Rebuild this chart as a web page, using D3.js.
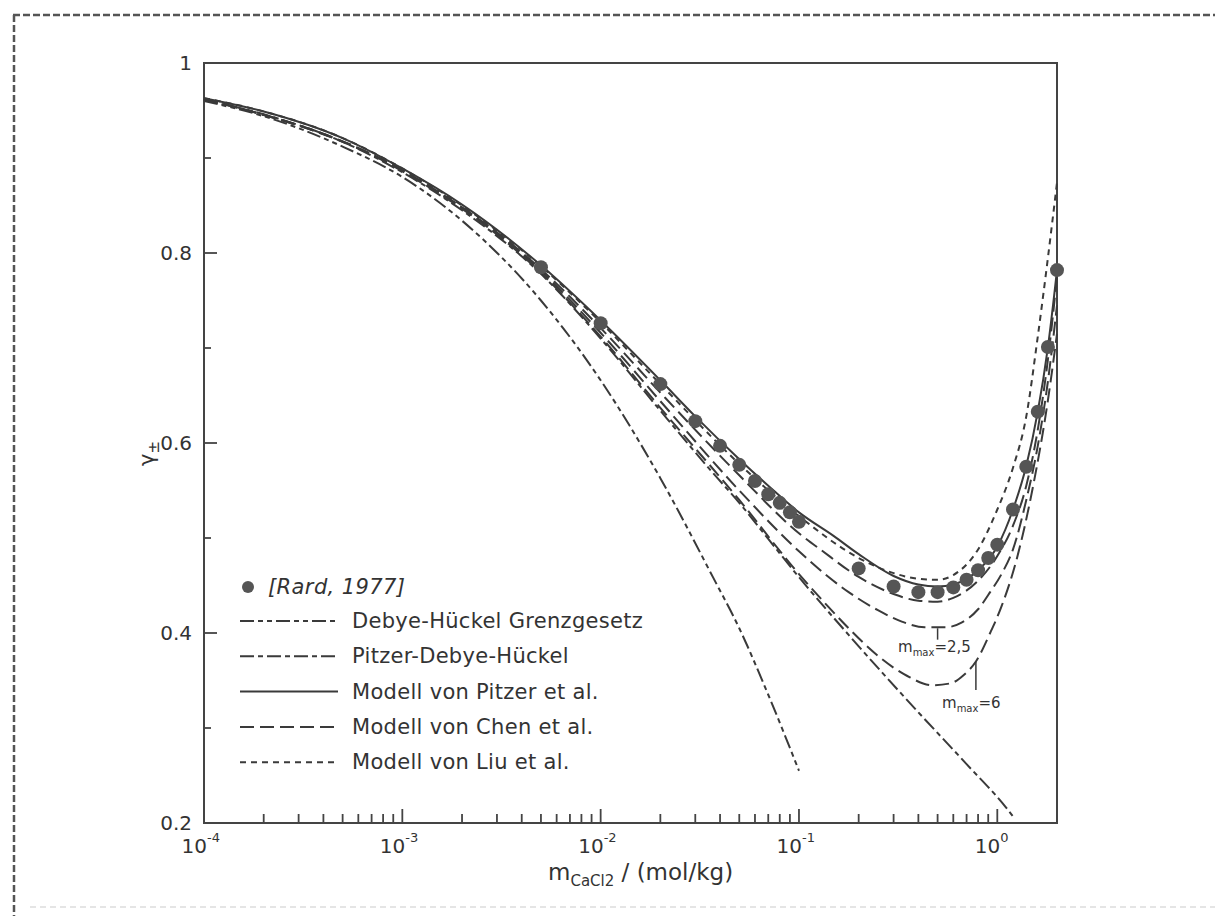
<!DOCTYPE html>
<html>
<head>
<meta charset="utf-8">
<script src="https://cdn.jsdelivr.net/npm/d3@7/dist/d3.min.js"></script>
<style>
  html, body { margin: 0; padding: 0; background: #fff; }
  svg { display: block; }
  text { font-family: "DejaVu Sans", "Noto Sans", sans-serif; fill: #333; }
</style>
</head>
<body>
<svg id="chart" width="1215" height="916"></svg>
<script>
// Measured mean activity coefficients of CaCl2 [Rard, 1977]
const rardM = [0.005, 0.01, 0.02, 0.03, 0.04, 0.05, 0.06, 0.07, 0.08, 0.09, 0.1,
               0.2, 0.3, 0.4, 0.5, 0.6, 0.7, 0.8, 0.9, 1.0, 1.2, 1.4, 1.6, 1.8, 2.0];
const rardG = [0.785, 0.726, 0.662, 0.623, 0.597, 0.577, 0.560, 0.546, 0.537, 0.527, 0.517,
               0.468, 0.449, 0.443, 0.443, 0.448, 0.456, 0.466, 0.479, 0.493, 0.530, 0.575, 0.633, 0.701, 0.782];

// Debye-Hückel limiting law
const dhllM = [1e-4, 2e-4, 5e-4, 1e-3, 2e-3, 5e-3, 0.01, 0.02, 0.037, 0.05, 0.07, 0.1];
const dhllG = [0.960, 0.944, 0.912, 0.880, 0.834, 0.750, 0.666, 0.563, 0.458, 0.405, 0.335, 0.255];

// Pitzer-Debye-Hückel term
const pdhM = [1e-4, 2e-4, 5e-4, 1e-3, 2e-3, 5e-3, 0.01, 0.02, 0.037, 0.05, 0.07, 0.098, 0.178, 0.39, 0.7, 1.1, 1.2];
const pdhG = [0.961, 0.946, 0.917, 0.885, 0.845, 0.778, 0.710, 0.634, 0.568, 0.537, 0.499, 0.461, 0.398, 0.319, 0.262, 0.217, 0.207];

// Pitzer et al.
const pitzerM = [1e-4, 2e-4, 5e-4, 1e-3, 2e-3, 5e-3, 0.01, 0.02, 0.03, 0.05, 0.07, 0.1, 0.15,
                 0.2, 0.3, 0.4, 0.5, 0.6, 0.7, 0.8, 1.0, 1.2, 1.4, 1.6, 1.8, 2.0];
const pitzerG = [0.963, 0.949, 0.921, 0.889, 0.851, 0.787, 0.729, 0.666, 0.628, 0.583, 0.555, 0.527, 0.502,
                 0.483, 0.460, 0.451, 0.449, 0.451, 0.457, 0.466, 0.491, 0.530, 0.576, 0.633, 0.701, 0.782];

// Chen et al., full molality range
const chenM = [1e-4, 1e-3, 5e-3, 0.01, 0.02, 0.05, 0.1, 0.13, 0.2, 0.3, 0.4, 0.5, 0.6, 0.8, 1.0, 1.2, 1.4, 1.6, 1.8, 2.0];
const chenG = [0.962, 0.887, 0.783, 0.721, 0.653, 0.566, 0.505, 0.487, 0.459, 0.441, 0.434, 0.433, 0.437, 0.455, 0.481, 0.513, 0.555, 0.614, 0.688, 0.775];

// Chen et al., fitted up to m_max = 2.5
const chen25M = [1e-4, 1e-3, 5e-3, 0.01, 0.02, 0.05, 0.1, 0.137, 0.178, 0.25, 0.33, 0.43, 0.55, 0.66, 0.8, 0.92, 1.05, 1.2, 1.4, 1.6, 1.8, 2.0];
const chen25G = [0.962, 0.887, 0.781, 0.716, 0.644, 0.550, 0.486, 0.461, 0.443, 0.424, 0.412, 0.406, 0.406, 0.411, 0.425, 0.443, 0.462, 0.488, 0.540, 0.597, 0.665, 0.745];

// Chen et al., fitted up to m_max = 6
const chen6M = [1e-4, 1e-3, 5e-3, 0.01, 0.02, 0.05, 0.1, 0.14, 0.178, 0.25, 0.35, 0.47, 0.58, 0.68, 0.78, 0.92, 1.05, 1.25, 1.5, 1.8, 2.0];
const chen6G = [0.962, 0.886, 0.779, 0.712, 0.637, 0.540, 0.462, 0.428, 0.405, 0.376, 0.355, 0.345, 0.347, 0.356, 0.370, 0.400, 0.428, 0.477, 0.550, 0.645, 0.715];

// Liu et al.
const liuM = [1e-4, 2e-4, 5e-4, 1e-3, 5e-3, 0.01, 0.02, 0.05, 0.1, 0.2, 0.3, 0.4, 0.5, 0.6, 0.8, 1.0, 1.2, 1.4, 1.6, 1.8, 2.0];
const liuG = [0.963, 0.949, 0.921, 0.889, 0.786, 0.727, 0.662, 0.578, 0.523, 0.479, 0.463, 0.457, 0.456, 0.461, 0.488, 0.530, 0.574, 0.628, 0.712, 0.795, 0.874];

// Axis ticks
const yTicks = [0.2, 0.3, 0.4, 0.5, 0.6, 0.7, 0.8, 0.9, 1.0];
const yTickLabels = ["0.2", "0.4", "0.6", "0.8", "1"];
const yLabelValues = [0.2, 0.4, 0.6, 0.8, 1.0];
const xDecades = [-4, -3, -2, -1, 0];
const xDecadeLabels = ["-4", "-3", "-2", "-1", "0"];

// Legend entries
const legendNames = ["Debye-Hückel Grenzgesetz", "Pitzer-Debye-Hückel", "Modell von Pitzer et al.",
                     "Modell von Chen et al.", "Modell von Liu et al."];

const svg = d3.select("#chart");
const ink = "#3a3a3a";

const x = d3.scaleLog().domain([1e-4, 2]).range([204, 1057]);
const y = d3.scaleLinear().domain([0.2, 1]).range([823, 63]);

// dashed page border
svg.append("line").attr("x1", 13).attr("x2", 1215).attr("y1", 15).attr("y2", 15)
  .attr("stroke", "#555").attr("stroke-width", 2.5).attr("stroke-dasharray", "7,3");
svg.append("line").attr("x1", 14).attr("x2", 14).attr("y1", 15).attr("y2", 916)
  .attr("stroke", "#555").attr("stroke-width", 2.5).attr("stroke-dasharray", "7,3");
svg.append("line").attr("x1", 30).attr("x2", 1215).attr("y1", 907).attr("y2", 907)
  .attr("stroke", "#ddd").attr("stroke-width", 1.5).attr("stroke-dasharray", "6,4");

// frame
svg.append("rect").attr("x", x(1e-4)).attr("y", y(1))
  .attr("width", x(2) - x(1e-4)).attr("height", y(0.2) - y(1))
  .attr("fill", "none").attr("stroke", "#444").attr("stroke-width", 2);

// y ticks (inward)
svg.append("g").selectAll("line").data(yTicks).join("line")
  .attr("x1", x(1e-4)).attr("x2", d => x(1e-4) + (Math.round(d * 10) % 2 === 0 ? 13 : 7))
  .attr("y1", d => y(d)).attr("y2", d => y(d))
  .attr("stroke", "#444").attr("stroke-width", 1.8);
svg.append("g").selectAll("text").data(yLabelValues).join("text")
  .attr("x", 192).attr("y", d => y(d) + 7)
  .attr("text-anchor", "end").attr("font-size", 20)
  .text((d, i) => yTickLabels[i]);

// x ticks (log minor + decades, inward)
const xMinor = [];
xDecades.forEach(e => {
  for (let k = 1; k <= 9; k++) {
    const v = k * Math.pow(10, e);
    if (v <= 2 && v > 1e-4) xMinor.push({ v, major: k === 1 });
  }
});
svg.append("g").selectAll("line").data(xMinor).join("line")
  .attr("x1", d => x(d.v)).attr("x2", d => x(d.v))
  .attr("y1", y(0.2)).attr("y2", d => y(0.2) - (d.major ? 14 : 9))
  .attr("stroke", "#444").attr("stroke-width", 1.8);
const xl = svg.append("g").selectAll("g").data(xDecades).join("g");
xl.append("text")
  .attr("x", d => x(Math.pow(10, d)) + 3).attr("y", 853)
  .attr("text-anchor", "end").attr("font-size", 20).text("10");
xl.append("text")
  .attr("x", d => x(Math.pow(10, d)) + 3).attr("y", 842)
  .attr("font-size", 13).text((d, i) => xDecadeLabels[i]);

// axis titles
const xt = svg.append("text").attr("x", 548).attr("y", 880).attr("font-size", 23);
xt.append("tspan").text("m");
xt.append("tspan").attr("font-size", 15).attr("dy", 6).text("CaCl2");
xt.append("tspan").attr("dy", -6).text(" / (mol/kg)");

const yt = svg.append("text").attr("transform", "translate(154,466) rotate(-90)").attr("font-size", 21);
yt.append("tspan").text("γ");
yt.append("tspan").attr("font-size", 15).attr("dy", 5).text("±");

// curves
const line = d3.line().x(d => x(d[0])).y(d => y(d[1])).curve(d3.curveMonotoneX);
const styles = {
  dhll: "14,4,5,4,5,4",
  pdh: "14,4,5,4",
  pitzer: null,
  chen: "14,6",
  liu: "6,5"
};
function curve(ms, gs, dash) {
  svg.append("path").datum(ms.map((m, i) => [m, gs[i]]))
    .attr("d", line).attr("fill", "none").attr("stroke", ink)
    .attr("stroke-width", 2).attr("stroke-dasharray", dash);
}
curve(dhllM, dhllG, styles.dhll);
curve(pdhM, pdhG, styles.pdh);
curve(chenM, chenG, styles.chen);
curve(chen25M, chen25G, styles.chen);
curve(chen6M, chen6G, styles.chen);
curve(liuM, liuG, styles.liu);
curve(pitzerM, pitzerG, styles.pitzer);

// measured points
svg.append("g").selectAll("circle").data(rardM).join("circle")
  .attr("cx", d => x(d)).attr("cy", (d, i) => y(rardG[i])).attr("r", 7)
  .attr("fill", "#555");

// m_max annotations
function mmax(mx, g1, g2, tx, ty, val) {
  svg.append("line").attr("x1", x(mx)).attr("x2", x(mx)).attr("y1", y(g1)).attr("y2", y(g2))
    .attr("stroke", ink).attr("stroke-width", 1.5);
  const t = svg.append("text").attr("x", tx).attr("y", ty).attr("font-size", 15);
  t.append("tspan").text("m");
  t.append("tspan").attr("font-size", 10).attr("dy", 4).text("max");
  t.append("tspan").attr("dy", -4).text("=" + val);
}
mmax(0.5, 0.405, 0.393, 898, 652, "2,5");
mmax(0.78, 0.370, 0.340, 942, 708, "6");

// legend
const lg = svg.append("g");
lg.append("circle").attr("cx", 248).attr("cy", 587).attr("r", 6).attr("fill", "#555");
lg.append("text").attr("x", 268).attr("y", 594).attr("font-size", 21)
  .attr("letter-spacing", 0.4).attr("font-style", "italic").text("[Rard, 1977]");
const dashList = [styles.dhll, styles.pdh, styles.pitzer, styles.chen, styles.liu];
legendNames.forEach((name, i) => {
  const ly = 621 + i * 35.3;
  lg.append("line").attr("x1", 240).attr("x2", 338).attr("y1", ly).attr("y2", ly)
    .attr("stroke", ink).attr("stroke-width", 2).attr("stroke-dasharray", dashList[i]);
  lg.append("text").attr("x", 352).attr("y", ly + 7).attr("font-size", 21)
    .attr("letter-spacing", 0.3).text(name);
});
</script>
</body>
</html>
